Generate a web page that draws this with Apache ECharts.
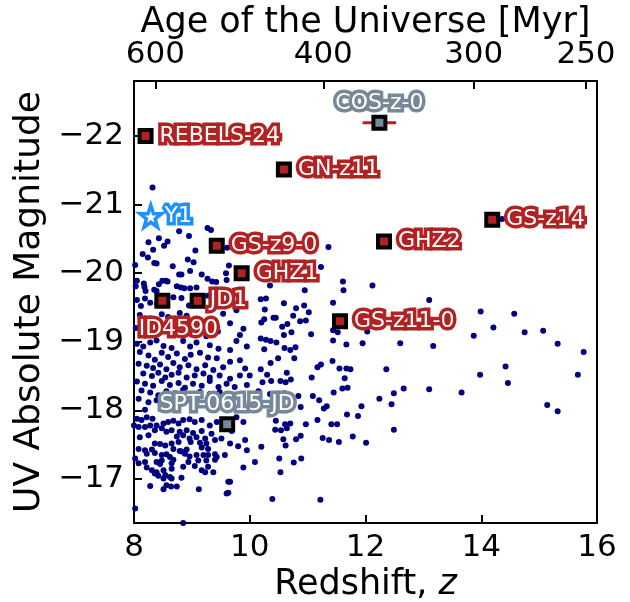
<!DOCTYPE html>
<html>
<head>
<meta charset="utf-8">
<script src="https://cdn.jsdelivr.net/npm/echarts@6/dist/echarts.min.js"></script>
<style>html,body{margin:0;padding:0;background:#fff}#c{width:630px;height:602px}</style>
</head>
<body>
<div id="c"></div>
<script>
// ---- data (redshift z, UV absolute magnitude M) ----
const sampleGalaxies = [
[8.32,-21.25],[8.78,-20.61],[8.95,-20.54],[9.27,-20.66],[9.33,-20.63],[8.25,-20.45],[8.43,-20.51],[8.58,-20.46],[8.52,-20.40],[8.33,-20.34],
[8.15,-20.28],[8.24,-20.23],[9.06,-20.33],[8.35,-20.15],[8.39,-20.14],[8.93,-20.20],[9.03,-20.16],[8.02,-20.12],[8.67,-20.10],[8.97,-20.03],
[8.78,-19.98],[8.82,-19.98],[9.17,-19.98],[9.27,-19.92],[9.35,-19.88],[9.42,-19.87],[9.59,-20.00],[9.64,-20.11],[9.61,-20.37],[9.60,-19.90],
[8.05,-19.89],[8.03,-19.81],[8.17,-19.85],[8.49,-19.89],[8.55,-19.89],[8.58,-19.88],[8.43,-19.84],[8.18,-19.80],[8.20,-19.74],[8.35,-19.76],
[8.39,-19.74],[8.74,-19.81],[8.81,-19.79],[8.87,-19.78],[8.97,-19.78],[9.08,-19.79],
[11.36,-20.38],[11.23,-20.09],[10.35,-19.82],[10.95,-19.75],[11.61,-19.88],[11.62,-19.75],[12.12,-19.82],[14.36,-20.79],
[10.19,-19.62],[10.28,-19.63],[10.26,-19.47],[10.59,-19.56],[10.80,-19.49],[10.94,-19.53],[11.02,-19.43],[11.44,-19.57],
[10.25,-19.33],[10.20,-19.28],[10.41,-19.35],[10.45,-19.35],[10.75,-19.38],[10.87,-19.30],[10.97,-19.31],[10.65,-19.26],[10.56,-19.22],[10.72,-19.14],
[10.59,-19.10],[11.06,-19.11],[11.44,-19.17],[11.52,-19.14],[11.44,-19.02],[11.67,-18.96],[11.95,-18.98],[12.03,-19.15],[10.19,-19.05],[10.28,-19.03],
[10.36,-19.01],[10.46,-18.99],[10.25,-18.89],[10.60,-18.91],[10.70,-18.88],[10.79,-18.92],[10.77,-18.76],[10.49,-18.76],[10.36,-18.69],[10.19,-18.60],
[10.30,-18.52],[10.64,-18.55],[10.00,-18.51],[10.22,-18.41],[10.37,-18.43],[10.53,-18.43],[10.62,-18.41],[10.71,-18.45],[11.07,-18.48],[11.17,-18.63],
[11.23,-18.67],[11.43,-18.72],[11.55,-18.61],[11.67,-18.61],[11.74,-18.60],[11.64,-18.47],[11.60,-18.32],[11.69,-18.33],[11.45,-18.26],[10.15,-18.28],
[10.35,-18.24],[10.60,-18.25],[10.84,-18.21],[11.09,-18.21],[11.20,-18.15],[11.33,-18.06],[10.88,-18.05],[11.93,-18.06],
[13.10,-19.61],[13.99,-19.44],[14.57,-19.41],[14.21,-19.21],[13.87,-19.09],[14.75,-19.14],[15.07,-19.16],[15.32,-18.97],[15.77,-18.85],[12.60,-18.98],
[13.17,-18.94],[12.36,-18.60],[14.42,-18.64],[13.98,-18.52],[14.46,-18.40],[15.67,-18.52],[12.66,-18.32],[12.49,-18.25],[13.10,-18.31],[13.66,-18.26],
[12.24,-18.17],[12.45,-18.09],[15.14,-18.08],[15.32,-17.99],[12.49,-17.72],
[11.28,-18.03],[11.68,-17.94],[11.87,-17.92],[10.45,-17.85],[10.61,-17.80],[10.70,-17.81],[10.97,-17.80],[11.17,-17.86],[11.41,-17.80],[11.51,-17.80],
[10.44,-17.72],[10.54,-17.71],[10.64,-17.74],[10.88,-17.63],[10.80,-17.58],[10.58,-17.58],[10.62,-17.49],[11.26,-17.60],[11.37,-17.57],[11.54,-17.54],
[11.78,-17.62],[12.01,-17.53],[10.20,-17.47],[10.09,-17.25],[10.51,-17.30],[10.89,-17.30],[10.76,-17.24],[10.53,-17.10],[10.39,-16.71],[11.22,-16.70],
[8.05,-19.61],[8.19,-19.63],[8.28,-19.57],[8.68,-19.65],[8.82,-19.64],[9.28,-19.67],[9.37,-19.58],[8.12,-19.52],[8.40,-19.55],[8.95,-19.53],
[8.10,-19.39],[8.28,-19.34],[8.48,-19.40],[8.59,-19.36],[8.79,-19.42],[8.91,-19.38],[9.54,-19.41],[9.66,-19.27],[9.89,-19.19],[9.83,-19.10],[9.77,-19.46],
[8.03,-19.20],[8.22,-19.16],[8.44,-19.22],[8.70,-19.12],[9.02,-19.18],[9.25,-19.08],[9.45,-19.15],
[8.05,-18.97],[8.16,-18.93],[8.28,-18.99],[8.39,-19.02],[8.51,-18.94],[8.65,-18.91],[8.85,-19.01],[8.97,-18.93],[9.08,-18.99],[9.31,-18.95],
[9.46,-18.90],[9.66,-18.88],[9.77,-19.01],[9.95,-18.93],
[8.10,-18.85],[8.25,-18.80],[8.36,-18.74],[8.48,-18.84],[8.59,-18.78],[8.74,-18.83],[8.88,-18.75],[8.98,-18.81],[9.14,-18.84],[9.28,-18.77],
[9.43,-18.76],[9.66,-18.71],[9.83,-18.73],
[8.08,-18.68],[8.22,-18.65],[8.33,-18.62],[8.45,-18.67],[8.56,-18.60],[8.68,-18.69],[8.79,-18.63],[8.94,-18.66],[9.08,-18.60],[9.23,-18.66],
[9.37,-18.59],[9.54,-18.63],[9.92,-18.61],
[8.16,-18.54],[8.31,-18.50],[8.42,-18.55],[8.54,-18.48],[8.65,-18.52],[8.77,-18.55],[8.91,-18.48],[9.05,-18.51],[9.20,-18.54],[9.31,-18.48],
[9.48,-18.51],[9.66,-18.46],[9.83,-18.51],
[8.05,-18.42],[8.19,-18.39],[8.33,-18.36],[8.48,-18.43],[8.62,-18.37],[8.77,-18.40],[8.88,-18.33],[9.02,-18.39],[9.17,-18.36],[9.31,-18.43],
[9.46,-18.34],[9.60,-18.39],[9.74,-18.34],[9.95,-18.37],
[8.13,-18.29],[8.28,-18.26],[8.42,-18.22],[8.56,-18.28],[8.71,-18.25],[8.85,-18.30],[8.98,-18.22],[9.14,-18.27],[9.31,-18.24],[9.48,-18.27],[9.66,-18.22],
[8.08,-18.17],[8.25,-18.12],[8.39,-18.15],[8.54,-18.09],[8.68,-18.16],[8.82,-18.10],[8.97,-18.15],[9.11,-18.12],
[8.05,-17.88],[8.13,-17.86],[8.22,-17.90],[8.32,-17.88],[8.19,-18.01],
[8.00,-17.78],[8.08,-17.76],[8.19,-17.76],[8.28,-17.78],[8.39,-17.78],[8.51,-17.81],[8.59,-17.83],[8.68,-17.85],[8.77,-17.81],[8.85,-17.86],
[8.96,-17.87],[9.05,-17.83],[9.17,-17.86],[9.31,-17.78],[9.43,-17.83],[9.89,-17.83],[9.77,-17.90],
[8.36,-17.71],[8.48,-17.74],[8.56,-17.69],[8.65,-17.71],[8.79,-17.69],[8.91,-17.71],[9.02,-17.67],[9.17,-17.70],[9.34,-17.66],[9.69,-17.70],
[8.10,-17.61],[8.25,-17.64],[8.74,-17.62],[8.85,-17.64],[8.96,-17.59],[9.08,-17.61],[9.23,-17.59],[9.51,-17.59],[9.92,-17.57],[9.80,-17.48],
[8.36,-17.52],[8.45,-17.51],[8.54,-17.49],[8.65,-17.52],[8.77,-17.54],[8.98,-17.54],[9.14,-17.53],[9.25,-17.52],[9.40,-17.57],[9.66,-17.52],
[8.08,-17.44],[8.19,-17.42],[8.31,-17.43],[8.68,-17.44],[8.79,-17.41],[8.91,-17.43],[9.17,-17.46],[9.28,-17.44],[9.95,-17.42],
[8.22,-17.37],[8.36,-17.38],[8.48,-17.35],[8.56,-17.36],[8.62,-17.32],[8.82,-17.40],[8.88,-17.37],[8.96,-17.33],[9.08,-17.35],[9.20,-17.35],
[9.28,-17.35],[9.40,-17.36],[9.43,-17.32],[9.57,-17.35],
[8.02,-17.30],[8.19,-17.25],[8.39,-17.25],[8.48,-17.27],[8.68,-17.28],[8.94,-17.25],[9.11,-17.27],[9.25,-17.27],[9.40,-17.28],
[8.08,-17.23],[8.45,-17.22],[8.65,-17.23],[8.85,-17.18],[9.05,-17.19],[9.28,-17.18],[9.89,-17.17],
[8.22,-17.17],[8.31,-17.13],[8.39,-17.10],[8.51,-17.13],[8.65,-17.15],[9.17,-17.13],[9.37,-17.10],[9.23,-17.10],
[8.36,-17.08],[8.42,-17.05],[8.54,-17.06],[8.62,-17.03],[8.82,-17.02],[8.51,-17.01],[8.65,-17.01],
[8.28,-16.90],[8.56,-16.91],[8.64,-16.89],[8.74,-16.89],[8.51,-16.85],[9.12,-16.85],
[9.63,-16.96],[9.66,-16.96],[9.60,-16.79],[9.63,-16.80],[8.02,-16.57],[8.85,-16.36]
];

const redNames = ['REBELS-24','GN-z11','GS-z14','GHZ2','GS-z9-0','GHZ1','JD1','ID4590','GS-z11-0'];
const redZ     = [8.20, 10.59, 14.19, 12.32, 9.43, 9.86, 9.10, 8.49, 11.56];
const redM     = [-22.00, -21.51, -20.78, -20.46, -20.40, -20.00, -19.60, -19.60, -19.30];

const grayNames = ['COS-z-0','SPT-0615-JD'];
const grayZ     = [12.24, 9.61];
const grayM     = [-22.19, -17.80];
const cosZErr   = [11.95, 12.53];

const y1Name = 'Y1';
const y1Z = 8.29;
const y1M = -20.83;

const yTicks = [-22, -21, -20, -19, -18, -17];
const ageTickLabels = ['600', '400', '300', '250'];
const ageTickZ = [8.37, 11.27, 13.87, 15.81];

// ---- chart ----
const FONT = 'DejaVu Sans';
const RED = '#B22222', GRAY = '#778899', BLUE = '#1E90FF', NAVY = '#000080';
const minus = v => (v < 0 ? '\u2212' + Math.abs(v) : String(v));
const star = 'path://M50,0 L61.8,35.1 L97.6,34.5 L69.1,56.7 L79.4,91 L50,70.5 L20.6,91 L30.9,56.7 L2.4,34.5 L38.2,35.1 Z';
const SQ = 12, SQB = 4, LBL_FS = 22, STAR = 22, STARB = 3.5;

function labelFor(name, outline) {
  const base = outline
    ? { color: outline, textBorderColor: outline, textBorderWidth: 7 }
    : { color: '#fff', textBorderWidth: 0 };
  let pos;
  if (name === 'ID4590') pos = { position: 'inside', offset: [16, 29] };
  else if (name === 'COS-z-0' || name === 'SPT-0615-JD') pos = { position: 'inside', offset: [0, -20] };
  else if (name === 'JD1') pos = { position: 'right', distance: 4 };
  else if (name === 'Y1') pos = { position: 'right', distance: 1 };
  else pos = { position: 'right', distance: 6 };
  return Object.assign({ show: true, fontFamily: FONT, fontSize: LBL_FS, formatter: p => p.name }, base, pos);
}

function pts(names, zs, ms, outline) {
  return names.map((n, i) => ({ name: n, value: [zs[i], ms[i]], label: labelFor(n, outline) }));
}

const invisible = (bw) => ({ color: 'rgba(0,0,0,0)', borderColor: 'rgba(0,0,0,0)', borderWidth: bw, opacity: 1 });

const chart = echarts.init(document.getElementById('c'), null, { renderer: 'canvas' });
chart.setOption({
  animation: false,
  backgroundColor: '#fff',
  grid: { left: 134, right: 33, top: 81, bottom: 79, outerBoundsMode: 'none', containLabel: false,
          show: true, borderColor: '#000', borderWidth: 2, backgroundColor: 'transparent' },
  xAxis: [
    {
      type: 'value', position: 'bottom', min: 8, max: 16, interval: 2,
      name: 'Redshift, {i|z}', nameLocation: 'middle', nameGap: 37,
      nameTextStyle: { fontFamily: FONT, fontSize: 35, color: '#000', rich: { i: { fontFamily: FONT, fontSize: 35, fontStyle: 'italic', color: '#000' } } },
      axisLine: { show: false },
      axisTick: { show: true, inside: true, length: 8, lineStyle: { color: '#000', width: 2 } },
      axisLabel: { fontFamily: FONT, fontSize: 31, color: '#000', margin: 9, formatter: v => String(v) },
      splitLine: { show: false }
    },
    {
      type: 'value', position: 'top', min: 8, max: 16,
      name: 'Age of the Universe [Myr]', nameLocation: 'middle', nameGap: 41, nameMoveOverlap: false,
      nameTextStyle: { fontFamily: FONT, fontSize: 35, color: '#000' },
      axisLine: { show: false },
      axisTick: { show: true, inside: true, length: 8, customValues: ageTickZ, lineStyle: { color: '#000', width: 2 } },
      axisLabel: { fontFamily: FONT, fontSize: 31, color: '#000', margin: 11, customValues: ageTickZ,
        formatter: v => { const k = ageTickZ.findIndex(t => Math.abs(t - v) < 1e-6); return k >= 0 ? ageTickLabels[k] : ''; } },
      splitLine: { show: false }
    }
  ],
  yAxis: {
    type: 'value', inverse: true, min: -22.8, max: -16.36,
    name: 'UV Absolute Magnitude', nameLocation: 'middle', nameGap: 82,
    nameTextStyle: { fontFamily: FONT, fontSize: 36, color: '#000' },
    axisLine: { show: false },
    axisTick: { show: true, inside: true, length: 8, customValues: yTicks, lineStyle: { color: '#000', width: 2 } },
    axisLabel: { fontFamily: FONT, fontSize: 31, color: '#000', margin: 10, customValues: yTicks, formatter: minus },
    splitLine: { show: false }
  },
  series: [
    {
      type: 'scatter', data: sampleGalaxies, symbol: 'circle', symbolSize: 6,
      itemStyle: { color: NAVY, opacity: 1 }, z: 2, silent: true
    },
    {
      type: 'line', data: [[cosZErr[0], grayM[0]], [cosZErr[1], grayM[0]]],
      symbol: 'none', lineStyle: { color: RED, width: 3 }, z: 3, silent: true
    },
    // markers + outline label layers
    {
      type: 'scatter', data: pts(redNames, redZ, redM, RED), symbol: 'rect', symbolSize: SQ,
      itemStyle: { color: RED, borderColor: '#000', borderWidth: SQB, opacity: 1 }, z: 5
    },
    {
      type: 'scatter', data: pts(grayNames, grayZ, grayM, GRAY), symbol: 'rect', symbolSize: SQ,
      itemStyle: { color: GRAY, borderColor: '#000', borderWidth: SQB, opacity: 1 }, z: 5
    },
    {
      type: 'scatter', data: pts([y1Name], [y1Z], [y1M], BLUE), symbol: star, symbolSize: STAR,
      itemStyle: { color: '#fff', borderColor: BLUE, borderWidth: STARB, opacity: 1 }, z: 5
    },
    // white text layers on top (same geometry, invisible symbols)
    {
      type: 'scatter', data: pts(redNames, redZ, redM, null), symbol: 'rect', symbolSize: SQ,
      itemStyle: invisible(SQB), z: 6, silent: true
    },
    {
      type: 'scatter', data: pts(grayNames, grayZ, grayM, null), symbol: 'rect', symbolSize: SQ,
      itemStyle: invisible(SQB), z: 6, silent: true
    },
    {
      type: 'scatter', data: pts([y1Name], [y1Z], [y1M], null), symbol: star, symbolSize: STAR,
      itemStyle: invisible(STARB), z: 6, silent: true
    }
  ]
});
</script>
</body>
</html>
